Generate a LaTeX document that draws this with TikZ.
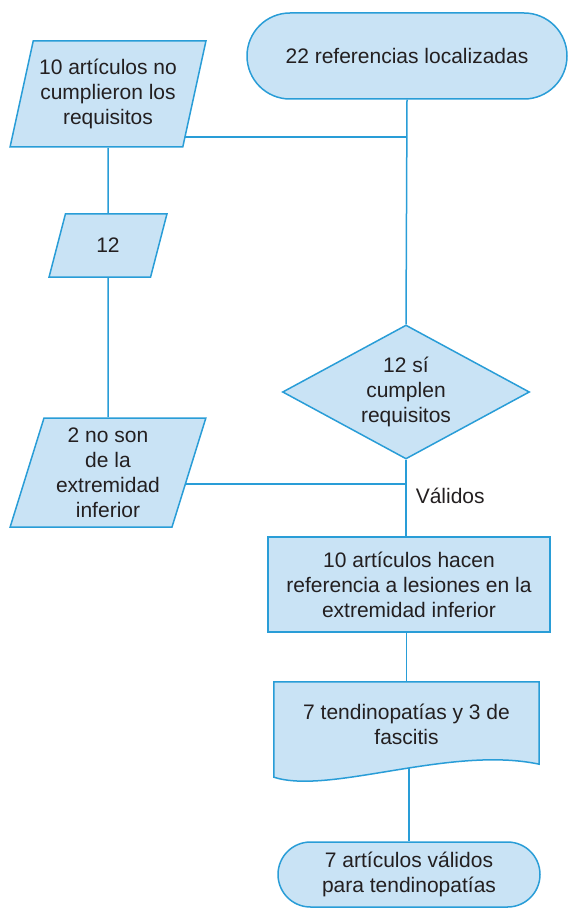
\documentclass[tikz,border=0pt]{standalone}
\usepackage{fontspec}
\setmainfont{Liberation Sans}
\usepackage{xcolor}
\usepackage{tikz}
\usetikzlibrary{positioning,calc,shapes,backgrounds}

\definecolor{fcline}{RGB}{41,157,215}
\definecolor{fcfill}{RGB}{201,227,245}
\definecolor{fctext}{RGB}{35,31,32}

\tikzset{
  fc/.style={draw=fcline,fill=fcfill,line width=1.5pt,text=fctext,align=center,inner sep=0pt},
  term/.style={fc,rounded rectangle},
  io/.style={fc,trapezium,trapezium left angle=73,trapezium right angle=107,trapezium stretches},
  dec/.style={fc,diamond,aspect=1.84},
  proc/.style={fc,rectangle},
  doctext/.style={text=fctext,align=center,inner sep=0pt},
  link/.style={draw=fcline,line width=1.5pt}
}

\begin{document}
\begin{tikzpicture}[x=1pt,y=-1pt,font=\fontsize{21}{25}\selectfont]
  \useasboundingbox (0,0) rectangle (569,909);

  \node (T1) [term,minimum width=320pt,minimum height=86pt] at (407,56) {22 referencias localizadas};
  \node (P1) [io,minimum width=196pt,minimum height=106pt] at (108,94) {10 artículos no\\cumplieron los\\requisitos};
  \node (P2) [io,minimum width=118pt,minimum height=63pt] at (108,245.5) {12};
  \node (P3) [io,minimum width=196pt,minimum height=109pt] at (108,472.5) {2 no son\\de la\\extremidad\\inferior};
  \node (C) [dec,minimum width=247pt,minimum height=134pt] at (406,392) {12 sí\\cumplen\\requisitos};
  \node (R) [proc,minimum width=282pt,minimum height=95pt] at (409,584.5) {10 artículos hacen\\referencia a lesiones en la\\extremidad inferior};
  \node (D) [doctext,minimum width=265pt,minimum height=84pt] at (406.5,724) {7 tendinopatías y 3 de\\fascitis};
  \node (T2) [term,minimum width=262pt,minimum height=65pt] at (409,874.5) {7 artículos válidos\\para tendinopatías};

  % junctions on the main line
  \coordinate (J1) at (407,137);
  \coordinate (J2) at (406,484);

  \begin{scope}[on background layer]
    \draw[link] (T1.south) -- (C.north);
    \draw[link] (P1) -- (P2);
    \draw[link] (P2) -- (P3);
    \draw[link] (J1) -- (P1.center |- J1);
    \draw[link] (J2) -- (P3.center |- J2);
    \draw[link] (C.south) -- node[pos=0.47,right=9pt,inner sep=0pt,text=fctext] (V) {Válidos} (C.south |- R.north);
    \draw[link] (R.south -| D.north) -- (D.north);
    \draw[link] (T2.north |- D.south) -- (T2.north);
    % wavy bottom of the document box
    \draw[fc] (D.north west) -- (D.north east) -- ($(D.south east)+(0,-2)$)
      .. controls ($(D.south east)+(-89,-21)$) and ($(D.south west)+(56,29)$) .. ($(D.south west)+(0,11)$) -- cycle;
  \end{scope}
\end{tikzpicture}
\end{document}
